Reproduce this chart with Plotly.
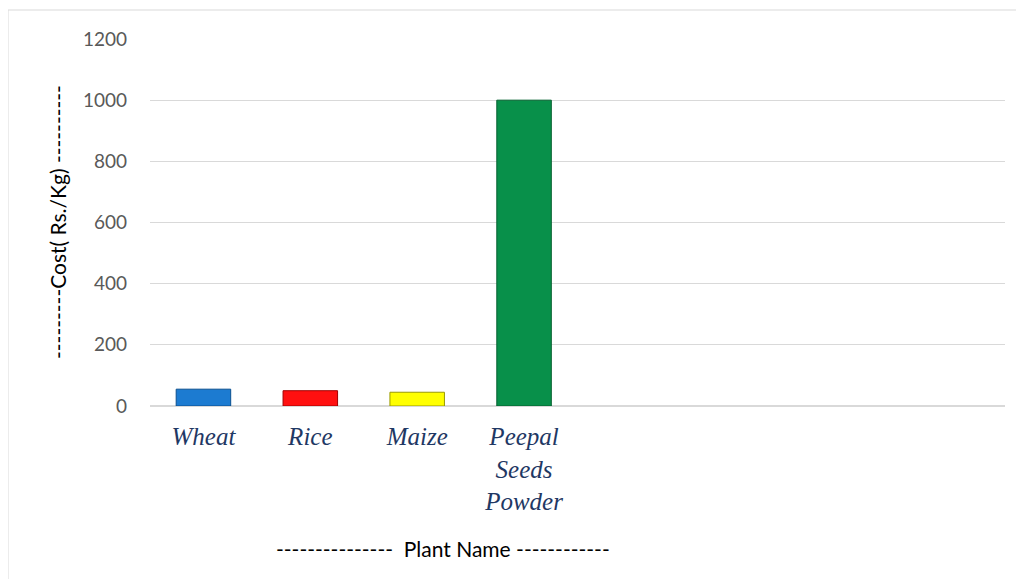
import plotly.graph_objects as go

categories = ["Wheat", "Rice", "Maize", "Peepal<br>Seeds<br>Powder"]
costs = [55, 50, 45, 1000]
colors = ["#1C7BD1", "#FF1010", "#FFFF00", "#08904A"]
edge_colors = ["#0B4F8F", "#A00000", "#9A9A00", "#05602F"]
y_ticks = [0, 200, 400, 600, 800, 1000, 1200]
n_slots = 8

x_pos = list(range(len(categories)))

# page body has an 8px margin; figure is placed at (8, 8)
OFF = 8
L, T, B_PIX, R_PIX = 150 - OFF, 39 - OFF, 406 - OFF, 1005 - OFF
W, H = 1016, 571
PW, PH = R_PIX - L, B_PIX - T


def px(xp):
    return (xp - OFF - L) / PW


def py(yp):
    return (B_PIX - (yp - OFF)) / PH


fig = go.Figure()
fig.add_trace(go.Bar(
    x=x_pos, y=costs, width=0.51,
    marker=dict(color=colors, line=dict(color=edge_colors, width=1)),
    hoverinfo="skip", showlegend=False,
))

fig.update_layout(
    width=W, height=H,
    margin=dict(l=L, r=W - R_PIX, t=T, b=H - B_PIX),
    paper_bgcolor="white", plot_bgcolor="white",
    xaxis=dict(
        range=[-0.5, n_slots - 0.5],
        tickvals=x_pos, ticktext=categories,
        tickfont=dict(family="Liberation Serif", size=25, color="#1F3864", style="italic"),
        showgrid=False, zeroline=False, showline=False, ticks="",
        ticklabelstandoff=13,
    ),
    yaxis=dict(
        range=[0, 1200], tickvals=y_ticks,
        tickfont=dict(family="Lato", size=19, color="#595959"),
        showgrid=True, gridcolor="#D9D9D9", gridwidth=1,
        zeroline=True, zerolinecolor="#D9D9D9", zerolinewidth=2,
        showline=False, ticks="", ticklabelstandoff=22,
    ),
    annotations=[
        dict(text="---------Cost( Rs./Kg) ----------", textangle=-90,
             xref="paper", yref="paper", x=px(57), y=py(222),
             xanchor="center", yanchor="middle", showarrow=False,
             font=dict(family="Lato", size=21, color="#000000")),
        dict(text="---------------  Plant Name ------------",
             xref="paper", yref="paper", x=px(443), y=py(548),
             xanchor="center", yanchor="middle", showarrow=False,
             font=dict(family="Lato", size=21, color="#000000")),
    ],
    shapes=[
        dict(type="rect", xref="paper", yref="paper",
             x0=px(8), x1=px(1040), y0=py(600), y1=py(10),
             line=dict(color="#D9D9D9", width=1), fillcolor="rgba(0,0,0,0)", layer="below"),
    ],
)

fig.write_html("out.html")
